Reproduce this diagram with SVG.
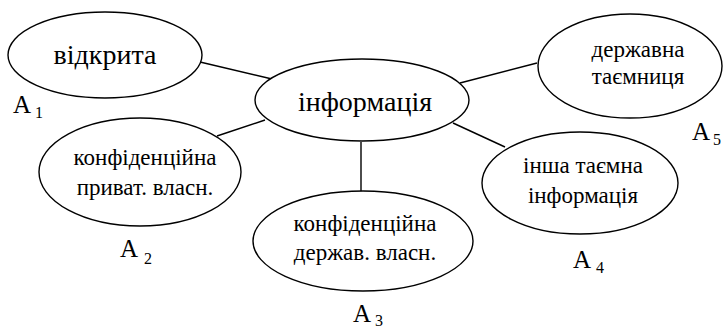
<svg xmlns="http://www.w3.org/2000/svg" width="726" height="329" viewBox="0 0 726 329" font-family="'Liberation Serif', 'DejaVu Serif', serif">
<style>
.n{fill:#fff;stroke:#000;stroke-width:1.4}
.c{stroke:#000;stroke-width:1.4;fill:none}
.big{font-size:28px}
.t{font-size:23px}
.a{font-size:25px}
.s{font-size:16px}
</style>
<rect width="726" height="329" fill="#fff"/>
<g id="connectors">
<line class="c" x1="200" y1="62" x2="272" y2="79"/>
<line class="c" x1="217" y1="136" x2="265" y2="120"/>
<line class="c" x1="460" y1="83" x2="537" y2="63"/>
<line class="c" x1="453" y1="123" x2="505" y2="147"/>
<line class="c" x1="361" y1="142" x2="361" y2="191"/>
</g>
<g id="n-center">
<ellipse class="n" cx="362" cy="100" rx="107" ry="41"/>
<text class="big" x="365" y="111" text-anchor="middle">інформація</text>
</g>
<g id="n-a1">
<ellipse class="n" cx="105" cy="55" rx="97" ry="43"/>
<text class="big" x="105" y="64" text-anchor="middle">відкрита</text>
<text class="a" x="13" y="113">A<tspan class="s" dx="4" dy="5">1</tspan></text>
</g>
<g id="n-a2">
<ellipse class="n" cx="140" cy="172" rx="101" ry="54"/>
<text class="t" x="145" y="165" text-anchor="middle">конфіденційна</text>
<text class="t" x="145" y="195" text-anchor="middle">приват. власн.</text>
<text class="a" x="120" y="257">A<tspan class="s" dx="6" dy="7">2</tspan></text>
</g>
<g id="n-a3">
<ellipse class="n" cx="363" cy="241" rx="110" ry="50"/>
<text class="t" x="365" y="231" text-anchor="middle">конфіденційна</text>
<text class="t" x="365" y="260" text-anchor="middle">держав. власн.</text>
<text class="a" x="353" y="322">A<tspan class="s" dx="4" dy="4">3</tspan></text>
</g>
<g id="n-a4">
<ellipse class="n" cx="580" cy="183" rx="98" ry="51"/>
<text class="t" x="583" y="173" text-anchor="middle">інша таємна</text>
<text class="t" x="583" y="203" text-anchor="middle">інформація</text>
<text class="a" x="573" y="268">A<tspan class="s" dx="5" dy="5">4</tspan></text>
</g>
<g id="n-a5">
<ellipse class="n" cx="630" cy="66" rx="92" ry="52"/>
<text class="t" x="638" y="57" text-anchor="middle">державна</text>
<text class="t" x="638" y="84" text-anchor="middle">таємниця</text>
<text class="a" x="692" y="140">A<tspan class="s" dx="3" dy="5">5</tspan></text>
</g>
</svg>
